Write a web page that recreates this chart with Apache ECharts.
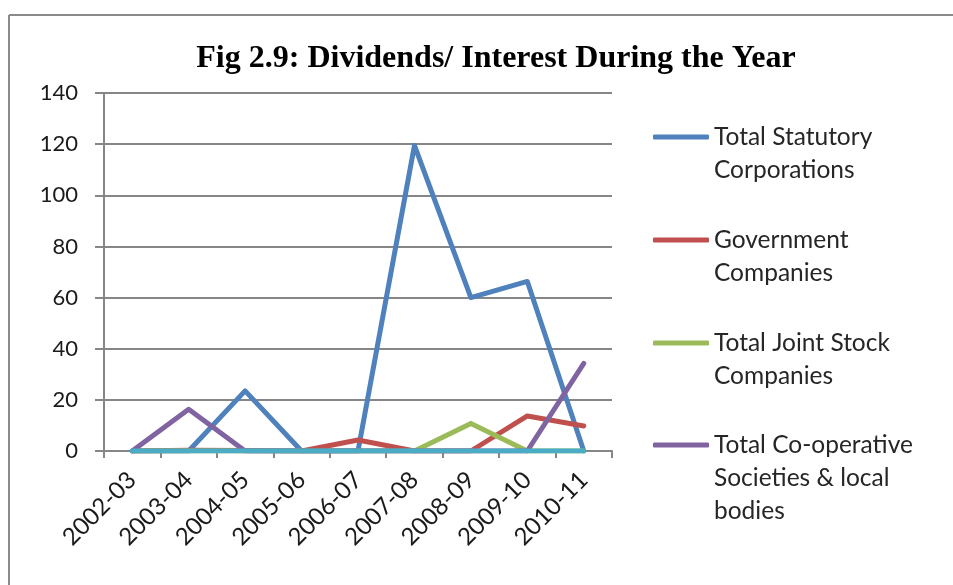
<!DOCTYPE html>
<html>
<head>
<meta charset="utf-8">
<script src="https://cdn.jsdelivr.net/npm/echarts@6/dist/echarts.min.js"></script>
<style>
html,body{margin:0;padding:0;background:#fff;}
#chart{width:953px;height:585px;}
</style>
</head>
<body>
<div id="chart"></div>
<script>
var categories = ['2002-03','2003-04','2004-05','2005-06','2006-07','2007-08','2008-09','2009-10','2010-11'];
var statutory = [0, 0, 23.5, 0, 0, 119.5, 60, 66.3, 0];
var government = [0, 0.3, 0.2, 0, 4.3, 0, 0, 13.7, 9.8];
var jointStock = [0, 0, 0, 0, 0, 0, 10.8, 0, 0];
var cooperative = [0, 16.3, 0, 0, 0, 0, 0, 0, 34.3];
var fifthSeries = [0, 0, 0, 0, 0, 0, 0, 0, 0];
var yTicks = [0, 20, 40, 60, 80, 100, 120, 140];

var names = ['Total Statutory\nCorporations', 'Government\nCompanies', 'Total Joint Stock\nCompanies', 'Total Co-operative\nSocieties & local\nbodies'];
var colors = ['#4F81BD', '#C0504D', '#9BBB59', '#8064A2', '#4BACC6'];
var legendIconY = [137, 240, 343, 445];
var LH = 33;
var FONT = 'Lato, "Noto Sans", sans-serif';

function mkLegend(i) {
  var n = names[i].split('\n').length;
  var blockH = (2 * n - 1) * LH;
  var lead = '';
  for (var k = 0; k < n - 1; k++) lead += '\n';
  return {
    show: true,
    orient: 'vertical',
    left: 653,
    top: legendIconY[i] - blockH / 2,
    padding: 0,
    data: [names[i]],
    icon: 'roundRect',
    itemWidth: 56,
    itemHeight: 5,
    selectedMode: false,
    formatter: function (name) { return lead + name; },
    textStyle: {
      fontFamily: FONT,
      fontSize: 24.5,
      color: '#262626',
      lineHeight: LH
    }
  };
}

function mkSeries(name, data, color, z) {
  return {
    name: name,
    type: 'line',
    data: data,
    symbol: 'none',
    z: z,
    lineStyle: { width: 5, color: color, cap: 'round', join: 'round' },
    itemStyle: { color: color },
    animation: false
  };
}

var chart = echarts.init(document.getElementById('chart'), null, { renderer: 'canvas' });
chart.setOption({
  backgroundColor: '#fff',
  animation: false,
  title: {
    text: 'Fig 2.9: Dividends/ Interest During the Year',
    left: 491,
    textAlign: 'center',
    top: 38,
    textStyle: {
      fontFamily: '"Liberation Serif", "Times New Roman", serif',
      fontWeight: 'bold',
      fontSize: 32,
      color: '#000'
    }
  },
  legend: [mkLegend(0), mkLegend(1), mkLegend(2), mkLegend(3)],
  grid: { left: 104, top: 93, right: 341, bottom: 134, containLabel: false },
  xAxis: {
    type: 'category',
    data: categories,
    boundaryGap: true,
    axisLine: { show: true, lineStyle: { color: '#868686', width: 2 } },
    axisTick: { show: true, length: 7, alignWithLabel: false, lineStyle: { color: '#868686', width: 2 } },
    axisLabel: {
      rotate: 45,
      margin: 25,
      fontFamily: FONT,
      fontSize: 24,
      color: '#1a1a1a',
      interval: 0
    },
    splitLine: { show: false }
  },
  yAxis: {
    type: 'value',
    min: 0,
    max: 140,
    interval: 20,
    axisLine: { show: true, lineStyle: { color: '#868686', width: 2 } },
    axisTick: { show: true, inside: false, length: 9, lineStyle: { color: '#868686', width: 2 } },
    axisLabel: {
      margin: 26,
      fontFamily: FONT,
      fontSize: 22,
      color: '#1a1a1a',
      formatter: function (v) { return yTicks.indexOf(v) >= 0 ? String(v) : ''; }
    },
    splitLine: { show: true, lineStyle: { color: '#868686', width: 2 } }
  },
  series: [
    mkSeries(names[0], statutory, colors[0], 2),
    mkSeries(names[1], government, colors[1], 3),
    mkSeries(names[2], jointStock, colors[2], 4),
    mkSeries(names[3], cooperative, colors[3], 5),
    mkSeries('Series 5', fifthSeries, colors[4], 6)
  ],
  graphic: [
    { type: 'line', shape: { x1: 9, y1: 15, x2: 9, y2: 585 }, style: { stroke: '#8a8a8a', lineWidth: 2 } },
    { type: 'line', shape: { x1: 9, y1: 15, x2: 953, y2: 15 }, style: { stroke: '#8a8a8a', lineWidth: 2 } }
  ]
});
</script>
</body>
</html>
